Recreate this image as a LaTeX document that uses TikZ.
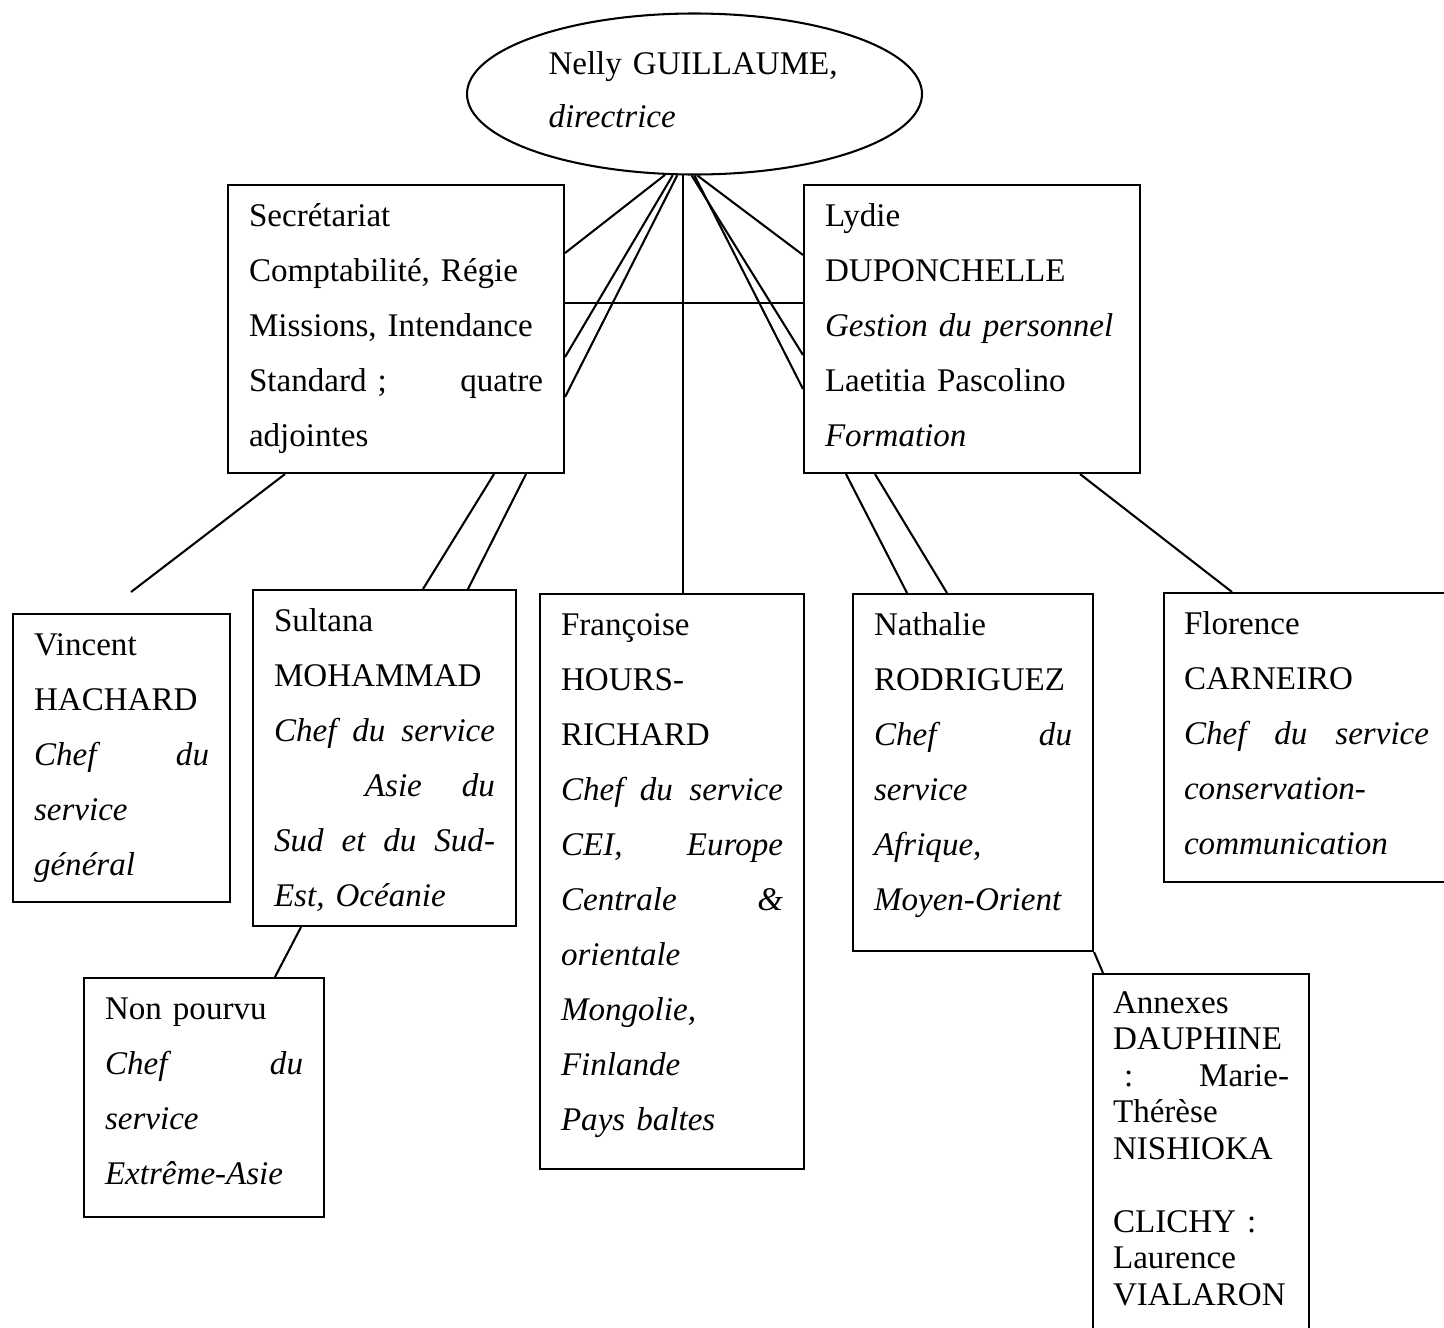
\documentclass[tikz,border=0pt]{standalone}
\usepackage{fontspec}
\setmainfont{Liberation Serif}
\usepackage{tikz}
\usetikzlibrary{shapes.geometric, calc}

% one pixel of the drawing
\newlength{\pxu}
\setlength{\pxu}{0.363pt}

\begin{document}
\begin{tikzpicture}[x=0.363pt,y=-0.363pt]
      \tikzset{
            orgboss/.style={ellipse, draw, line width=0.75pt, inner sep=0pt, minimum width=455\pxu, minimum height=161\pxu,
                            align=left, text width=292\pxu, text height=30\pxu, text depth=70\pxu, font=\fontsize{12}{19.6}\selectfont},
            orgbox/.style={rectangle, draw, line width=0.75pt, anchor=north west, align=left, inner xsep=21\pxu, inner ysep=0pt,
                           text height=41\pxu, font=\fontsize{12}{20}\selectfont},
            orgnote/.style={orgbox, inner xsep=20\pxu, text height=39\pxu, font=\fontsize{12}{13.25}\selectfont},
            orglink/.style={line width=0.75pt}
      }

      % Page frame
      \path[use as bounding box, clip] (0,0) rectangle (1444,1327);

      % Director
      \node[orgboss] (boss) at (694.5,94) {Nelly GUILLAUME,\\\textit{directrice}};

      % Second row
      \node[orgbox, text width=294\pxu, text depth=247\pxu] (sec) at (227,184)
            {Secrétariat\\Comptabilité, Régie\\Missions, Intendance\\Standard~;\hfill quatre\\adjointes};
      \node[orgbox, text width=294\pxu, text depth=247\pxu] (lydie) at (803,184)
            {Lydie\\DUPONCHELLE\\\textit{Gestion du personnel}\\Laetitia Pascolino\\\textit{Formation}};

      % Services
      \node[orgbox, text width=175\pxu, text depth=247\pxu] (vin) at (12,613)
            {Vincent\\HACHARD\\\textit{Chef\hfill du}\\\textit{service}\\\textit{général}};
      \node[orgbox, text width=221\pxu, text depth=295\pxu] (sul) at (252,589)
            {Sultana\\MOHAMMAD\\\textit{Chef\hfill du\hfill service}\\\hspace*{33pt}\textit{Asie\hfill du}\\
             \textit{Sud\hfill et\hfill du\hfill Sud-}\\\textit{Est, Océanie}};
      \node[orgbox, text width=198\pxu, text depth=198\pxu] (nonp) at (83,977)
            {Non pourvu\\\textit{Chef\hfill du}\\\textit{service}\\\textit{Extrême-Asie}};
      \node[orgbox, text width=222\pxu, text depth=534\pxu] (fhr) at (539,593)
            {Françoise\\HOURS-\\RICHARD\\\textit{Chef\hfill du\hfill service}\\\textit{CEI,\hfill Europe}\\
             \textit{Centrale\hfill \&}\\\textit{orientale}\\\textit{Mongolie,}\\\textit{Finlande}\\\textit{Pays baltes}};
      \node[orgbox, text width=198\pxu, text depth=316\pxu] (nat) at (852,593)
            {Nathalie\\RODRIGUEZ\\\textit{Chef\hfill du}\\\textit{service}\\\textit{Afrique,}\\\textit{Moyen-Orient}};
      \node[orgbox, inner xsep=20\pxu, text width=245\pxu, text depth=248\pxu] (flo) at (1163,592)
            {Florence\\CARNEIRO\\\textit{Chef\hfill du\hfill service}\\\textit{conservation-}\\\textit{communication}};
      \node[orgnote, text width=176\pxu, text depth=380\pxu] (annex) at (1092,973)
            {Annexes\\DAUPHINE\\\hspace*{4pt}:\hfill Marie-\\Thérèse\\NISHIOKA\\[13.25pt]CLICHY :\\Laurence\\VIALARON};

      \coordinate (vinTop) at (131,592);

      % Links from the director
      \draw[orglink] (boss.250) -- ($(sec.north east)+(0,69)$);
      \draw[orglink] (boss.255) -- ($(sec.north east)+(0,173)$);
      \draw[orglink] (boss.258) -- ($(sec.north east)+(0,213)$);
      \draw[orglink] (boss.262) -- (boss.262 |- fhr.north);
      \draw[orglink] (boss.268) -- ($(lydie.north west)+(0,171)$);
      \draw[orglink] (boss.270) -- ($(lydie.north west)+(0,205)$);
      \draw[orglink] (boss.272) -- ($(lydie.north west)+(0,71)$);
      \draw[orglink] ($(sec.north east)+(0,119)$) -- ($(lydie.north west)+(0,119)$);

      % Links to the services
      \draw[orglink] ($(sec.south west)+(58,0)$) -- (vinTop);
      \draw[orglink] ($(sec.south west)+(267,0)$) -- ($(sul.north west)+(171,0)$);
      \draw[orglink] ($(sec.south west)+(299,0)$) -- ($(sul.north west)+(216,0)$);
      \draw[orglink] ($(sul.south west)+(49,0)$) -- ($(nonp.north west)+(192,0)$);
      \draw[orglink] ($(lydie.south west)+(43,0)$) -- ($(nat.north west)+(55,0)$);
      \draw[orglink] ($(lydie.south west)+(72,0)$) -- ($(nat.north west)+(95,0)$);
      \draw[orglink] ($(lydie.south west)+(277,0)$) -- ($(flo.north west)+(69,0)$);
      \draw[orglink] (nat.south east) -- ($(annex.north west)+(11,0)$);

\end{tikzpicture}
\end{document}
